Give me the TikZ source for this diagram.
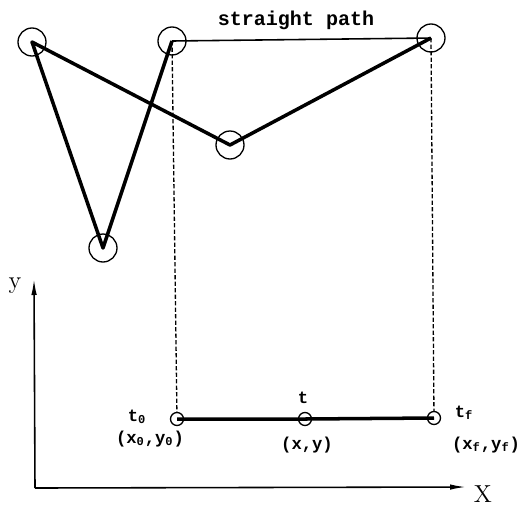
\documentclass[tikz,border=0pt]{standalone}
\usepackage{fontspec}
\setmonofont{Liberation Mono}
\usetikzlibrary{arrows.meta}

\begin{document}
\begin{tikzpicture}[
    x=0.02cm, y=-0.02cm,
    vertex/.style={circle, draw=black, line width=0.75pt, minimum size=0.56cm, inner sep=0pt},
    knot/.style={circle, draw=black, line width=0.75pt, minimum size=0.26cm, inner sep=0pt},
    route/.style={line width=2pt, line join=round},
    chord/.style={line width=0.9pt},
    guide/.style={line width=0.75pt, dash pattern=on 2.5pt off 1.2pt},
    axis/.style={line width=0.9pt, -{Latex[length=3.2mm,width=1.1mm]}},
    title/.style={font=\fontsize{11.4}{13}\selectfont\ttfamily\bfseries, anchor=base},
    tlabel/.style={font=\fontsize{9.8}{11}\selectfont\ttfamily\bfseries, anchor=base, inner sep=0pt},
    alabel/.style={font=\fontsize{14}{16}\selectfont, anchor=base, inner sep=0pt},
  ]
  \useasboundingbox (0,0) rectangle (524,505);

  % -------------------------------------------------------
  %  zig-zag path and the straight path
  % -------------------------------------------------------
  \node[vertex] (p1) at (32,42) {};
  \node[vertex] (p2) at (103,248) {};
  \node[vertex] (p3) at (172,41) {};
  \node[vertex] (p4) at (230,145) {};
  \node[vertex] (p5) at (431,38) {};

  \draw[route] (p3.center) -- (p2.center) -- (p1.center) -- (p4.center) -- (p5.center);
  \draw[chord] (p3.center) -- (p5.center);
  \node[title] (straight) at (296,25) {straight path};

  % -------------------------------------------------------
  %  parametrised segment
  % -------------------------------------------------------
  \node[knot] (t0) at (177,419) {};
  \node[knot] (t) at (305,419) {};
  \node[knot] (tf) at (434,418) {};
  \draw[route] (t0.center) -- (t.center) -- (tf.center);

  \draw[guide] (p3.center) -- (t0);
  \draw[guide] (p5.center) -- (tf);

  \node[tlabel] (t0lab) at (137,421) {t\textsubscript{0}};
  \node[tlabel] (xy0lab) at (150,443) {(x\textsubscript{0},y\textsubscript{0})};
  \node[tlabel] (tlab) at (303,403) {t};
  \node[tlabel] (xylab) at (307,449) {(x,y)};
  \node[tlabel] (tflab) at (464,417) {t\textsubscript{f}};
  \node[tlabel] (xyflab) at (486,449) {(x\textsubscript{f},y\textsubscript{f})};

  % -------------------------------------------------------
  %  axes
  % -------------------------------------------------------
  \coordinate (origin) at (35,488);
  \coordinate (ytip) at (34,279);
  \coordinate (xtip) at (466,487);
  \draw[axis] (origin) -- (ytip);
  \draw[axis] (origin) -- (xtip);
  \node[alabel] (ylab) at (15,288) {y};
  \node[alabel] (xlab) at (483,502) {X};

\end{tikzpicture}
\end{document}
